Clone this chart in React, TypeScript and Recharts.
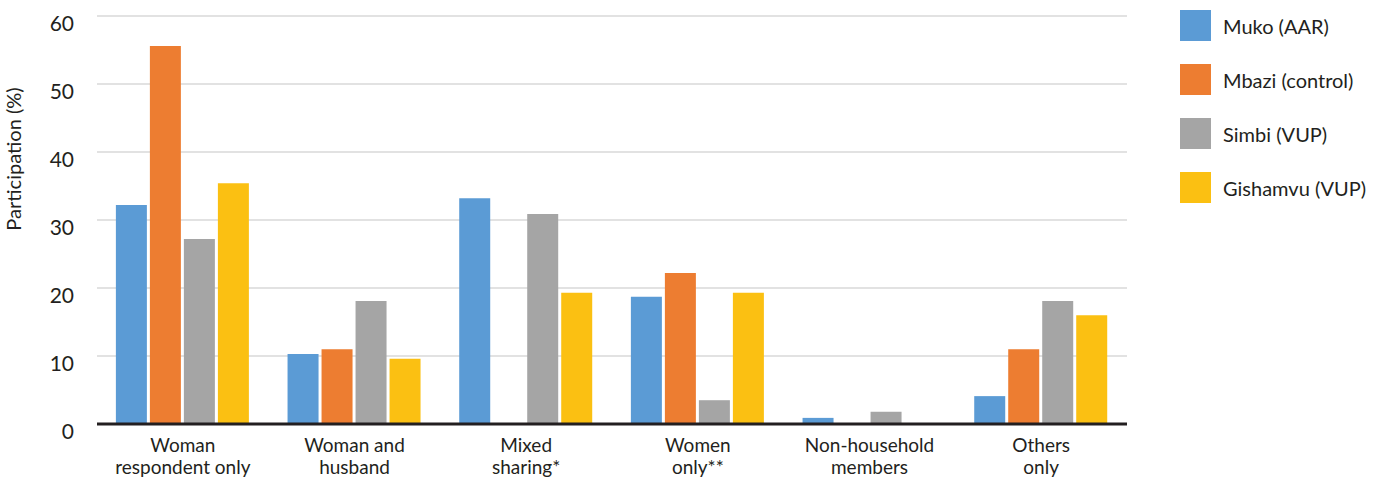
import React from 'react';
import { BarChart, Bar, XAxis, YAxis, CartesianGrid, Legend } from 'recharts';

const categories = [
  ['Woman', 'respondent only'],
  ['Woman and', 'husband'],
  ['Mixed', 'sharing*'],
  ['Women', 'only**'],
  ['Non-household', 'members'],
  ['Others', 'only'],
];
const muko = [32.2, 10.3, 33.2, 18.7, 0.9, 4.1];
const mbazi = [55.6, 11.0, 0, 22.2, 0, 11.0];
const simbi = [27.2, 18.1, 30.9, 3.5, 1.8, 18.1];
const gishamvu = [35.4, 9.6, 19.3, 19.3, 0, 16.0];
const yTicks = [0, 10, 20, 30, 40, 50, 60];

const series = [
  { key: 'muko', name: 'Muko (AAR)', color: '#5b9bd5' },
  { key: 'mbazi', name: 'Mbazi (control)', color: '#ed7d31' },
  { key: 'simbi', name: 'Simbi (VUP)', color: '#a5a5a5' },
  { key: 'gishamvu', name: 'Gishamvu (VUP)', color: '#fbc012' },
];

const data = categories.map((c, i) => ({
  name: c.join(' '),
  muko: muko[i],
  mbazi: mbazi[i],
  simbi: simbi[i],
  gishamvu: gishamvu[i],
}));

const FONT = 'Lato, "Open Sans", sans-serif';
const TEXT = '#231f20';

const CategoryTick = (props: any) => {
  const { x, y, index } = props;
  const lines = categories[index] || [];
  return (
    <g transform={`translate(${x},${y})`}>
      {lines.map((l, i) => (
        <text key={i} x={0} y={13 + i * 22} dy="0.35em" textAnchor="middle" fill={TEXT} fontSize={19} fontFamily={FONT}>
          {l}
        </text>
      ))}
    </g>
  );
};

const ValueTick = (props: any) => {
  const { x, y, payload } = props;
  return (
    <text x={x - 15} y={y + 8} dy="0.35em" textAnchor="end" fill={TEXT} fontSize={21} fontFamily={FONT}>
      {payload.value}
    </text>
  );
};

const SideLegend = () => (
  <div style={{ position: 'absolute', left: 1180, top: 10 }}>
    {series.map((s) => (
      <div key={s.key} style={{ display: 'flex', alignItems: 'center', height: 31, marginBottom: 23 }}>
        <div style={{ width: 31, height: 31, background: s.color }} />
        <span style={{ marginLeft: 12, fontFamily: FONT, fontSize: 20, color: TEXT, whiteSpace: 'nowrap' }}>{s.name}</span>
      </div>
    ))}
  </div>
);

export default function App() {
  return (
    <div style={{ position: 'absolute', left: 0, top: 0, width: 1373, height: 479, background: '#fff' }}>
      <BarChart
        width={1373}
        height={479}
        data={data}
        margin={{ top: 16, right: 246, left: 0, bottom: 0 }}
        barCategoryGap="11%"
        barGap={3}
      >
        <CartesianGrid vertical={false} stroke="#d9d9d9" strokeWidth={1.5} />
        <XAxis
          dataKey="name"
          height={55}
          tickLine={false}
          axisLine={{ stroke: TEXT, strokeWidth: 3 }}
          tick={<CategoryTick />}
          interval={0}
        />
        <YAxis
          width={97}
          domain={[0, 60]}
          ticks={yTicks}
          axisLine={false}
          tickLine={false}
          tick={<ValueTick />}
          label={{
            value: 'Participation (%)',
            angle: -90,
            position: 'insideLeft',
            dx: 9,
            dy: -61,
            style: { fill: TEXT, fontSize: 20, fontFamily: FONT, textAnchor: 'middle' },
          }}
        />
        <Legend content={() => null} />
        {series.map((s) => (
          <Bar key={s.key} dataKey={s.key} name={s.name} fill={s.color} isAnimationActive={false} />
        ))}
      </BarChart>
      <SideLegend />
    </div>
  );
}
